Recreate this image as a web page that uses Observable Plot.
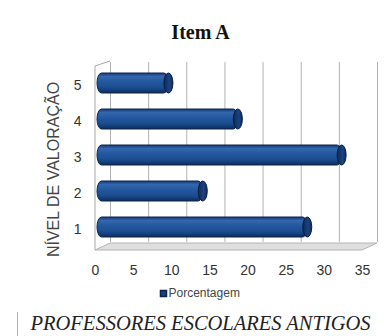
<!DOCTYPE html>
<html>
<head>
<meta charset="utf-8">
<script src="https://cdn.jsdelivr.net/npm/d3@7"></script>
<script src="https://cdn.jsdelivr.net/npm/@observablehq/plot@0.6"></script>
<style>
  html, body { margin: 0; padding: 0; background: #ffffff; }
  #chart { width: 384px; height: 336px; overflow: hidden; }
</style>
</head>
<body>
<div id="chart"></div>
<script>
// Rating levels (top to bottom) and share of answers for each level, in %
const levels = ["5", "4", "3", "2", "1"];
const percentages = [9.1, 18.2, 31.8, 13.6, 27.3];
const xTicks = [0, 5, 10, 15, 20, 25, 30, 35];

const title = "Item A";
const axisTitle = "NÍVEL DE VALORAÇÃO";
const seriesName = "Porcentagem";
const footer = "PROFESSORES ESCOLARES ANTIGOS";

const rows = levels.map((level, i) => ({level, value: percentages[i]}));

// pseudo-3D stage: how far the back wall sits from the front plane
const depth = 15;
const rise = 7;

// gradients used to shade the cylinders
function defs() {
  const d = d3.create("svg:defs");
  const g = d.append("linearGradient").attr("id", "cyl")
    .attr("x1", 0).attr("y1", 0).attr("x2", 0).attr("y2", 1);
  [[0, "#143a72"], [0.18, "#3468ad"], [0.4, "#245aa1"], [0.75, "#1a4b8e"], [1, "#0d2b5a"]]
    .forEach(([o, c]) => g.append("stop").attr("offset", o).attr("stop-color", c));
  const c = d.append("linearGradient").attr("id", "cap")
    .attr("x1", 0).attr("y1", 0).attr("x2", 1).attr("y2", 0);
  [[0, "#0f2a58"], [0.6, "#1c4280"], [1, "#102c5c"]]
    .forEach(([o, col]) => c.append("stop").attr("offset", o).attr("stop-color", col));
  return d.node();
}

// floor, left wall and the little rule next to the caption
function stage(index, {x}, values, dims) {
  const x0 = x(0), x1 = x(35);
  const yFront = dims.height - dims.marginBottom + 5;
  const yBack = yFront - rise;
  const yTop = dims.marginTop + 1;
  const g = d3.create("svg:g");
  g.append("path")
    .attr("d", `M${x0},${yFront}L${x1},${yFront}L${x1 + depth},${yBack}L${x0 + depth},${yBack}Z`)
    .attr("fill", "#dedede").attr("stroke", "#b4b4b4");
  g.append("path")
    .attr("d", `M${x0},${yFront}V${yTop}L${x0 + depth},${yTop - 5}`)
    .attr("fill", "none").attr("stroke", "#a9a9a9");
  g.append("line")
    .attr("x1", 17.5).attr("x2", 17.5).attr("y1", 312).attr("y2", 336)
    .attr("stroke", "#b0b0b0");
  return g.node();
}

const chart = Plot.plot({
  width: 384,
  height: 336,
  marginLeft: 95,
  marginRight: 22,
  marginTop: 65,
  marginBottom: 91,
  style: {background: "#ffffff", fontFamily: "'Liberation Sans', Arial, sans-serif", overflow: "visible"},
  x: {domain: [0, 35]},
  y: {domain: levels, paddingInner: 0.44, paddingOuter: 0.22},
  marks: [
    defs,
    stage,
    Plot.ruleX(xTicks, {dx: depth, dy: -3, stroke: "#b3b3b3", strokeWidth: 1}),
    Plot.axisX(xTicks, {tickSize: 0, tickPadding: 20, fontSize: 14, color: "#333", label: null}),
    Plot.axisY({tickSize: 0, tickPadding: 14, dy: 2, fontSize: 14, color: "#333", label: null}),
    Plot.text([axisTitle], {
      frameAnchor: "left", rotate: -90, dx: -42, dy: 14,
      fontSize: 16, fill: "#444", textAnchor: "middle", lineAnchor: "middle"
    }),
    // cylinder bodies
    Plot.barX(rows, {
      x: "value", y: "level", dx: 4, insetLeft: -2,
      fill: "url(#cyl)", stroke: "#0b2550", strokeWidth: 1, rx: 4.5, ry: 10
    }),
    // cylinder end caps
    Plot.barX(rows, {
      x1: "value", x2: "value", y: "level", dx: 4,
      insetLeft: -4.5, insetRight: -4.5,
      fill: "url(#cap)", stroke: "#081d40", strokeWidth: 1, rx: 4.5, ry: 10
    }),
    Plot.text([title], {
      frameAnchor: "top", dx: -28.5, dy: -32.5, lineAnchor: "middle",
      fontSize: 20, fontWeight: "bold", fill: "#111",
      fontFamily: "'Liberation Serif', 'Times New Roman', serif"
    }),
    // legend
    Plot.dot([seriesName], {
      frameAnchor: "bottom-left", dx: 68, dy: 48,
      symbol: "square", r: 3.4, fill: "#1b3f78", stroke: "#0c2450"
    }),
    Plot.text([seriesName], {
      frameAnchor: "bottom-left", dx: 73, dy: 48, textAnchor: "start", lineAnchor: "middle",
      fontSize: 12, fill: "#444"
    }),
    // caption
    Plot.text([footer], {
      frameAnchor: "bottom-left", dx: -65, dy: 78, textAnchor: "start", lineAnchor: "middle",
      fontSize: 20.5, fontStyle: "italic", fill: "#222",
      fontFamily: "'Liberation Serif', 'Times New Roman', serif"
    })
  ]
});

document.getElementById("chart").append(chart);
</script>
</body>
</html>
